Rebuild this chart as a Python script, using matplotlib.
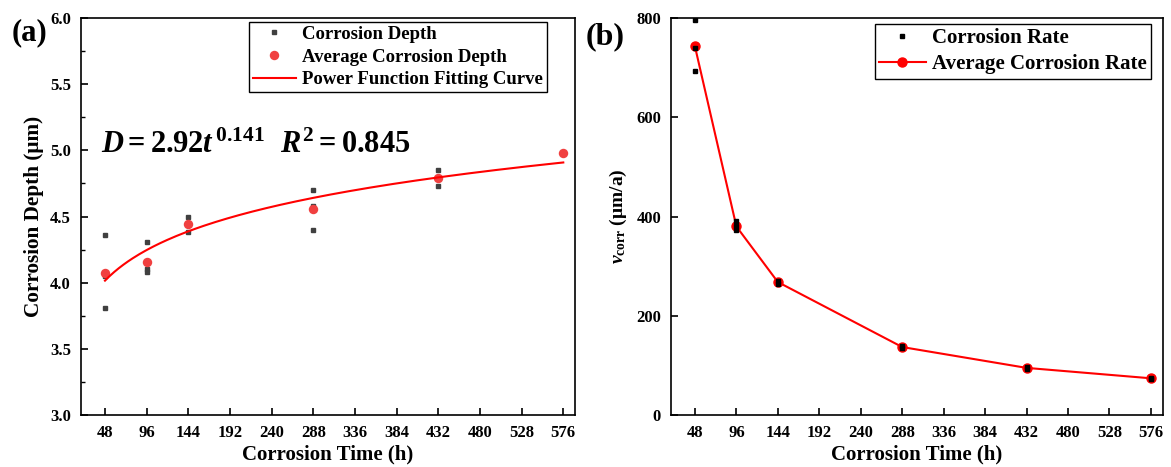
import numpy as np
import matplotlib

matplotlib.use("Agg")
import matplotlib.pyplot as plt
from matplotlib.ticker import MultipleLocator

plt.rcParams.update({
    "font.family": "Liberation Serif",
    "font.weight": "bold",
    "mathtext.fontset": "custom",
    "mathtext.rm": "Liberation Serif:bold",
    "mathtext.it": "Liberation Serif:italic:bold",
    "mathtext.bf": "Liberation Serif:bold",
    "axes.linewidth": 1.2,
})

# (a) corrosion depth, um
T_POINTS = [48, 48, 48, 96, 96, 96, 144, 144, 144, 288, 288, 288, 432, 432, 432, 576]
DEPTH = [4.36, 4.05, 3.81, 4.31, 4.10, 4.08, 4.50, 4.44, 4.38, 4.70, 4.58, 4.40, 4.85, 4.79, 4.73, 4.98]
T_AVG = [48, 96, 144, 288, 432, 576]
DEPTH_AVG = [4.07, 4.16, 4.44, 4.56, 4.79, 4.98]

# (b) corrosion rate, um/a
RATE_T = [48, 48, 48, 96, 96, 96, 144, 144, 288, 288, 432, 432, 576, 576]
RATE = [796, 739, 693, 392, 380, 372, 271, 265, 140, 135, 97, 93, 75, 72]
RATE_AVG = [743, 380, 268, 137, 95, 74]

XTICKS = [48, 96, 144, 192, 240, 288, 336, 384, 432, 480, 528, 576]

fig = plt.figure(figsize=(11.71, 4.67), dpi=100)
ax1 = fig.add_axes([0.0689, 0.1113, 0.4225, 0.850])
ax2 = fig.add_axes([0.5728, 0.1113, 0.4204, 0.850])

# power fit in log space
b, ln_a = np.polyfit(np.log(T_AVG), np.log(DEPTH_AVG), 1)
tt = np.linspace(48, 576, 200)
fit = np.exp(ln_a) * tt ** b

ax1.plot(T_POINTS, DEPTH, "s", color="#404040", ms=3.2, label="Corrosion Depth", zorder=3)
ax1.plot(T_AVG, DEPTH_AVG, "o", color="#f04040", ms=6.8, mec="none",
         label="Average Corrosion Depth", zorder=4)
ax1.plot(tt, fit, "-", color="#ff0000", lw=1.5, label="Power Function Fitting Curve", zorder=5)
ax1.set_xlim(20, 590)
ax1.set_ylim(3.0, 6.0)
ax1.yaxis.set_major_locator(MultipleLocator(0.5))
ax1.yaxis.set_minor_locator(MultipleLocator(0.25))
ax1.set_ylabel("Corrosion Depth (μm)", fontsize=15.3, fontweight="bold", labelpad=4)
ax1.text(43, 4.98, r"$D = 2.92t^{\,0.141}\ \ R^{2} = 0.845$", fontsize=22)
leg1 = ax1.legend(loc="upper right", bbox_to_anchor=(0.9424, 0.990), borderaxespad=0,
                  fontsize=13.5, frameon=True, fancybox=False, edgecolor="black",
                  framealpha=1, borderpad=0.2, labelspacing=0.3, handlelength=2.3,
                  handletextpad=0.35)
leg1.get_frame().set_linewidth(1.0)

ax2.plot(T_AVG, RATE_AVG, "-o", color="#ff0000", ms=6.5, lw=1.5,
         label="Average Corrosion Rate", zorder=3)
ax2.plot(RATE_T, RATE, "s", color="black", ms=3.2, label="Corrosion Rate", zorder=4)
ax2.set_xlim(20, 590)
ax2.set_ylim(0, 800)
ax2.yaxis.set_major_locator(MultipleLocator(200))
ax2.set_ylabel(r"$v_{\mathrm{corr}}$ (μm/a)", fontsize=14, fontweight="bold", labelpad=5)
h, l = ax2.get_legend_handles_labels()
leg2 = ax2.legend([h[1], h[0]], [l[1], l[0]], loc="upper right",
                  bbox_to_anchor=(0.975, 0.985), borderaxespad=0, fontsize=15,
                  frameon=True, fancybox=False, edgecolor="black", framealpha=1,
                  borderpad=0.2, labelspacing=0.3, handlelength=2.25, handletextpad=0.3)
leg2.get_frame().set_linewidth(1.0)

for ax in (ax1, ax2):
    ax.set_xticks(XTICKS)
    ax.set_xlabel("Corrosion Time (h)", fontsize=15, fontweight="bold", labelpad=3)
    ax.tick_params(axis="both", which="major", direction="in", length=5, width=1.2,
                   labelsize=12, pad=7)
    ax.tick_params(axis="both", which="minor", direction="in", length=3, width=1.0)
    for lab in ax.get_xticklabels() + ax.get_yticklabels():
        lab.set_fontweight("bold")

fig.text(0.0102, 0.914, "(a)", fontsize=22, fontweight="bold", va="baseline")
fig.text(0.5004, 0.906, "(b)", fontsize=23, fontweight="bold", va="baseline")

fig.savefig("out.png", dpi=100)
